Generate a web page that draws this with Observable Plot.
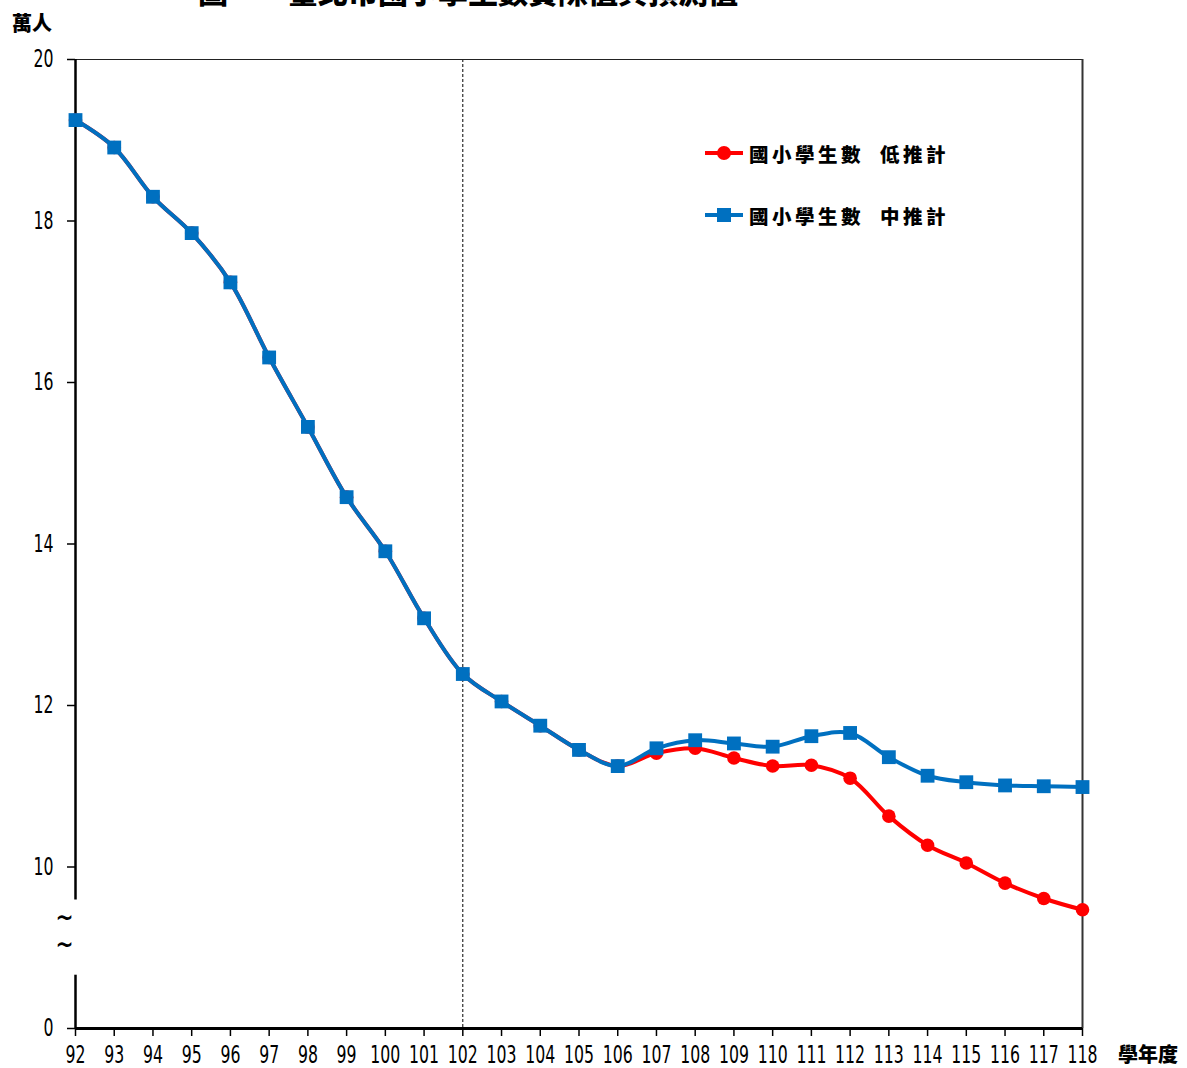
<!DOCTYPE html>
<html>
<head>
<meta charset="utf-8">
<script src="https://cdn.jsdelivr.net/npm/d3@7"></script>
<script src="https://cdn.jsdelivr.net/npm/@observablehq/plot@0.6"></script>
<style>
  html, body { margin: 0; padding: 0; background: #fff; }
  #wrap { position: relative; width: 1187px; height: 1068px; overflow: hidden; }
  .cjk { position: absolute; font-family: "Noto Sans CJK TC", "Noto Sans CJK SC", sans-serif; font-weight: 800; color: #000; white-space: nowrap; }
  .leg { position: absolute; display: flex; align-items: center; }
  .leg svg { display: block; }
  .leg span { font-family: "Noto Sans CJK TC", sans-serif; font-weight: 800; font-size: 19.5px; letter-spacing: 3.5px; margin-left: 6px; white-space: pre; }
  svg text { font-stretch: condensed; }
</style>
</head>
<body>
<div id="wrap"></div>
<script>
const years = [92,93,94,95,96,97,98,99,100,101,102,103,104,105,106,107,108,109,110,111,112,113,114,115,116,117,118];
const midValues = [19.25,18.91,18.30,17.85,17.24,16.31,15.45,14.58,13.91,13.08,12.39,12.05,11.75,11.45,11.25,11.47,11.57,11.53,11.49,11.62,11.66,11.36,11.13,11.05,11.01,11.00,10.99];
const lowValues = [19.25,18.91,18.30,17.85,17.24,16.31,15.45,14.58,13.91,13.08,12.39,12.05,11.75,11.45,11.25,11.41,11.47,11.35,11.25,11.26,11.10,10.63,10.27,10.05,9.80,9.61,9.47];
const seriesNames = ["國小學生數 低推計", "國小學生數 中推計"];
const yTicks = [8,10,12,14,16,18,20];
const yTickLabels = ["0","10","12","14","16","18","20"];
const projectionStart = 102;
const titleText = "圖一　臺北市國小學生數實際值與預測值";
const yUnit = "萬人";
const xUnit = "學年度";

const low = years.map((x, i) => ({x, y: lowValues[i]}));
const mid = years.map((x, i) => ({x, y: midValues[i]}));
const axisSegments = [{y1: 8, y2: 8.66}, {y1: 9.59, y2: 20}];

const chart = Plot.plot({
  width: 1187,
  height: 1068,
  marginTop: 59,
  marginBottom: 40,
  marginLeft: 75,
  marginRight: 105,
  style: {fontFamily: "'Liberation Sans Narrow', 'DejaVu Sans Condensed', 'DejaVu Sans', sans-serif", fontSize: "24px", color: "#000", background: "#fff"},
  x: {domain: [92, 118]},
  y: {domain: [8, 20]},
  marks: [
    Plot.ruleX([projectionStart], {stroke: "#000", strokeWidth: 1, strokeDasharray: "3,2"}),
    Plot.ruleY([20], {stroke: "#222", strokeWidth: 1.2}),
    Plot.ruleX([118], {stroke: "#333", strokeWidth: 2}),
    Plot.ruleX(axisSegments, {x: 92, y1: "y1", y2: "y2", stroke: "#000", strokeWidth: 2.5}),
    Plot.ruleY([8], {stroke: "#000", strokeWidth: 3}),
    Plot.axisY({ticks: yTicks, tickSize: 8, tickPadding: 14, tickFormat: d => yTickLabels[yTicks.indexOf(d)], label: null, strokeWidth: 1.5}),
    Plot.axisX({ticks: years, tickSize: 8, tickPadding: 9, tickFormat: d => String(d), label: null, strokeWidth: 1.5}),
    Plot.text(["~", "~"], {x: 92, y: [9.37, 9.03], text: d => d, dx: -11, fontSize: 24, fontWeight: "bold", fill: "#000"}),
    Plot.line(low, {x: "x", y: "y", stroke: "#FF0000", strokeWidth: 4, curve: "catmull-rom"}),
    Plot.dot(low, {x: "x", y: "y", r: 6.8, fill: "#FF0000", stroke: "none"}),
    Plot.line(mid, {x: "x", y: "y", stroke: "#0070C0", strokeWidth: 4, curve: "catmull-rom"}),
    Plot.dot(mid, {x: "x", y: "y", symbol: "square", r: 7.8, fill: "#0070C0", stroke: "none"})
  ]
});

const wrap = document.getElementById("wrap");
chart.style.position = "absolute";
chart.style.left = "0px";
chart.style.top = "0px";
wrap.appendChild(chart);

// Narrow the tick labels horizontally so "100" is about 30px wide, like the reference.
const tickTexts = Array.from(chart.querySelectorAll("g[aria-label='x-axis tick label'] text, g[aria-label='y-axis tick label'] text"));
const ref = tickTexts.find(t => t.textContent === "100");
if (ref) {
  const w = ref.getComputedTextLength();
  if (w > 0) {
    const k = Math.min(1, 30 / w);
    tickTexts.forEach(t => {
      const tr = t.getAttribute("transform") || "";
      t.setAttribute("transform", tr + ` scale(${k},1)`);
    });
  }
}

function addDiv(cls, text, left, top, size) {
  const d = document.createElement("div");
  d.className = cls;
  d.textContent = text;
  d.style.left = left + "px";
  d.style.top = top + "px";
  d.style.fontSize = size + "px";
  d.style.lineHeight = size + "px";
  wrap.appendChild(d);
  return d;
}
addDiv("cjk", titleText, 198, -25, 30);
addDiv("cjk", yUnit, 12, 13, 20);
addDiv("cjk", xUnit, 1118, 1044, 20);

function addLegend(name, color, shape, top) {
  const row = document.createElement("div");
  row.className = "leg";
  row.style.left = "705px";
  row.style.top = (top - 15) + "px";
  row.style.height = "30px";
  const ns = "http://www.w3.org/2000/svg";
  const s = document.createElementNS(ns, "svg");
  s.setAttribute("width", "38");
  s.setAttribute("height", "30");
  const ln = document.createElementNS(ns, "line");
  ln.setAttribute("x1", "0"); ln.setAttribute("x2", "38");
  ln.setAttribute("y1", "15"); ln.setAttribute("y2", "15");
  ln.setAttribute("stroke", color); ln.setAttribute("stroke-width", "4");
  s.appendChild(ln);
  let m;
  if (shape === "circle") {
    m = document.createElementNS(ns, "circle");
    m.setAttribute("cx", "19"); m.setAttribute("cy", "15"); m.setAttribute("r", "7");
  } else {
    m = document.createElementNS(ns, "rect");
    m.setAttribute("x", "12"); m.setAttribute("y", "8"); m.setAttribute("width", "14"); m.setAttribute("height", "14");
  }
  m.setAttribute("fill", color);
  s.appendChild(m);
  row.appendChild(s);
  const t = document.createElement("span");
  t.textContent = name.replace(" ", "  ");
  row.appendChild(t);
  wrap.appendChild(row);
}
addLegend(seriesNames[0], "#FF0000", "circle", 153);
addLegend(seriesNames[1], "#0070C0", "square", 215);
</script>
</body>
</html>
